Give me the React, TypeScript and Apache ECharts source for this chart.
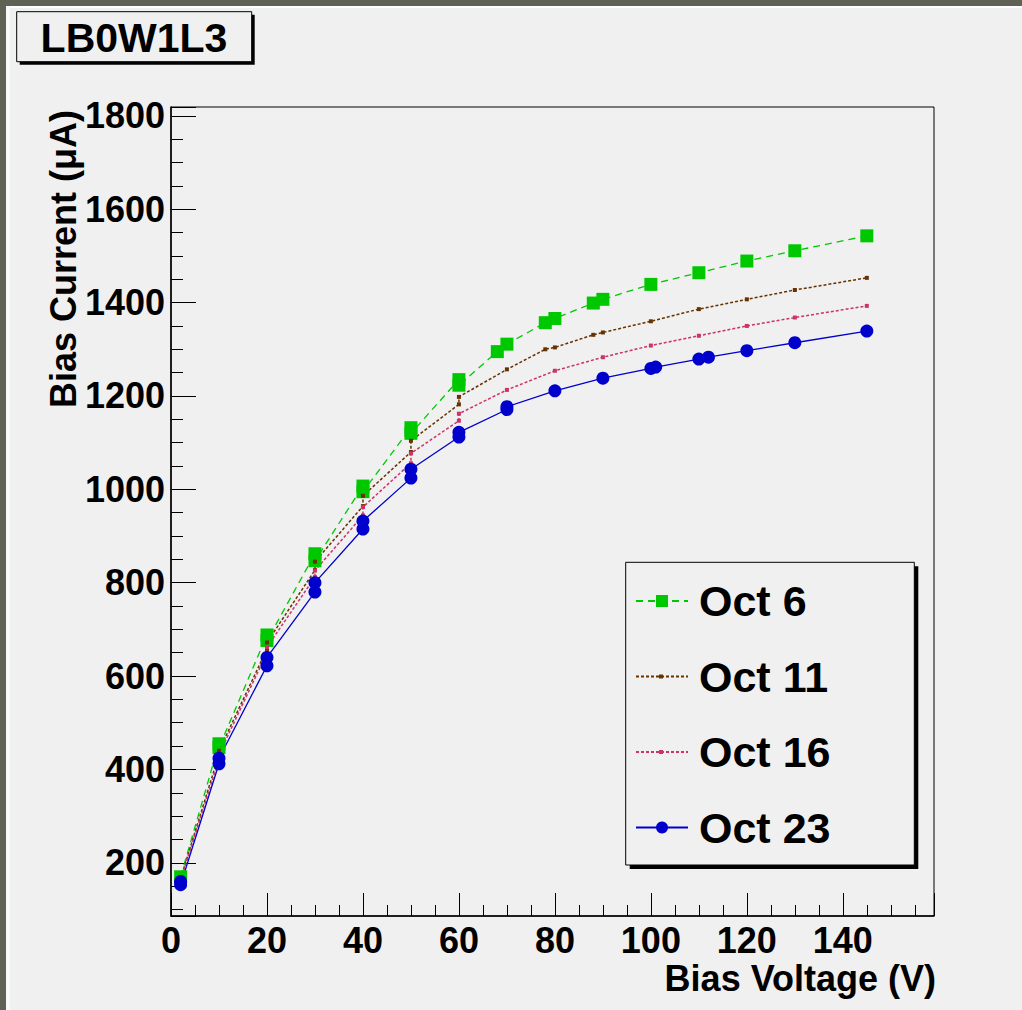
import { useEffect, useRef } from 'react';
import * as echarts from 'echarts';

const FONT = '"Liberation Sans", Arial, Helvetica, sans-serif';

const chartTitle = 'LB0W1L3';
const xTitle = 'Bias Voltage (V)';
const yTitle = 'Bias Current (μA)';

const seriesNames = ['Oct 6', 'Oct 11', 'Oct 16', 'Oct 23'];

const oct6V = [2, 10, 10, 20, 20, 30, 30, 40, 40, 50, 50, 60, 60, 68, 70, 78, 80, 88, 90, 100, 110, 120, 130, 145];
const oct6I = [170, 455, 447, 688, 676, 862, 847, 1007, 995, 1132, 1120, 1235, 1223, 1295, 1311, 1357, 1366, 1399, 1407, 1439, 1464, 1489, 1511, 1543];

const oct11V = [2, 10, 10, 20, 20, 30, 30, 40, 40, 50, 50, 60, 60, 70, 78, 80, 88, 90, 100, 110, 120, 130, 145];
const oct11I = [166, 432, 440, 658, 672, 827, 845, 964, 986, 1080, 1104, 1182, 1198, 1257, 1300, 1304, 1331, 1336, 1360, 1386, 1407, 1427, 1453];

const oct16V = [2, 10, 10, 20, 20, 30, 30, 40, 40, 50, 50, 60, 60, 70, 80, 90, 100, 110, 120, 130, 145];
const oct16I = [163, 422, 432, 650, 662, 812, 826, 944, 962, 1056, 1077, 1147, 1162, 1213, 1254, 1283, 1308, 1329, 1350, 1368, 1393];

const oct23V = [2, 2, 10, 10, 20, 20, 30, 30, 40, 40, 50, 50, 60, 60, 70, 70, 80, 90, 100, 101, 110, 112, 120, 130, 145];
const oct23I = [160, 153, 412, 424, 622, 640, 780, 800, 915, 932, 1024, 1043, 1112, 1122, 1171, 1177, 1211, 1238, 1259, 1262, 1279, 1283, 1297, 1314, 1339];

const xMin = 0;
const xMax = 159;
const yMin = 86;
const yMax = 1819;

const COLORS = ['#00c800', '#663300', '#cc3366', '#0000cc'];

const zip = (xs: number[], ys: number[]) => xs.map((x, i) => [x, ys[i]]);

export default function App() {
  const ref = useRef<HTMLDivElement>(null);

  useEffect(() => {
    const chart = echarts.init(ref.current!, null, { renderer: 'svg' });

    const grid = { left: 171, top: 107, right: 88, bottom: 94 };

    const majorLabel = (step: number) => (v: number) =>
      Math.abs(v % step) < 1e-6 ? String(v) : '';

    const option: any = {
      animation: false,
      backgroundColor: '#f0f0f0',
      grid: { ...grid, show: true, borderColor: '#000', borderWidth: 1, backgroundColor: 'transparent' },
      legend: {
        orient: 'vertical',
        left: 630,
        top: 574,
        itemWidth: 52,
        itemHeight: 15,
        itemGap: 31.5,
        z: 10,
        selectedMode: false,
        textStyle: {
          fontFamily: FONT,
          fontSize: 43,
          fontWeight: 'bold',
          color: '#000',
          lineHeight: 44,
          padding: [0, 0, 0, 6],
        },
        data: [
          { name: seriesNames[0] },
          { name: seriesNames[1], itemStyle: { color: 'rgba(0,0,0,0)' } },
          { name: seriesNames[2], itemStyle: { color: 'rgba(0,0,0,0)' } },
          { name: seriesNames[3] },
        ],
      },
      xAxis: [
        {
          type: 'value',
          min: xMin,
          max: xMax,
          interval: 20,
          position: 'bottom',
          axisLine: { show: true, lineStyle: { color: '#000', width: 1.5 } },
          axisTick: { show: true, inside: true, length: 23, lineStyle: { color: '#000', width: 1 } },
          axisLabel: {
            show: true,
            margin: 6,
            fontFamily: FONT,
            fontSize: 36,
            fontWeight: 'bold',
            color: '#000',
            formatter: majorLabel(20),
          },
          splitLine: { show: false },
        },
        {
          type: 'value',
          min: xMin,
          max: xMax,
          interval: 5,
          position: 'bottom',
          axisLine: { show: false },
          axisTick: { show: true, inside: true, length: 11, lineStyle: { color: '#000', width: 1 } },
          axisLabel: { show: false },
          splitLine: { show: false },
        },
      ],
      yAxis: [
        {
          type: 'value',
          min: yMin,
          max: yMax,
          splitNumber: 9,
          position: 'left',
          axisLine: { show: true, lineStyle: { color: '#000', width: 1.5 } },
          axisTick: { show: true, inside: true, length: 25, lineStyle: { color: '#000', width: 1 } },
          axisLabel: {
            show: true,
            margin: 6,
            fontFamily: FONT,
            fontSize: 36,
            fontWeight: 'bold',
            color: '#000',
            formatter: majorLabel(200),
          },
          splitLine: { show: false },
        },
        {
          type: 'value',
          min: yMin,
          max: yMax,
          splitNumber: 35,
          position: 'left',
          axisLine: { show: false },
          axisTick: { show: true, inside: true, length: 12, lineStyle: { color: '#000', width: 1 } },
          axisLabel: { show: false },
          splitLine: { show: false },
        },
      ],
      series: [
        {
          name: seriesNames[0],
          type: 'line',
          data: zip(oct6V, oct6I),
          symbol: 'rect',
          symbolSize: 13,
          color: COLORS[0],
          itemStyle: { color: COLORS[0] },
          lineStyle: { color: COLORS[0], width: 1.3, type: [7, 5] },
          emphasis: { disabled: true },
        },
        {
          name: seriesNames[1],
          type: 'line',
          data: zip(oct11V, oct11I),
          symbol: 'rect',
          symbolSize: 4,
          color: COLORS[1],
          itemStyle: { color: COLORS[1] },
          lineStyle: { color: COLORS[1], width: 1.5, type: [3, 2] },
          emphasis: { disabled: true },
        },
        {
          name: seriesNames[2],
          type: 'line',
          data: zip(oct16V, oct16I),
          symbol: 'rect',
          symbolSize: 4,
          color: COLORS[2],
          itemStyle: { color: COLORS[2] },
          lineStyle: { color: COLORS[2], width: 1.5, type: [3, 2] },
          emphasis: { disabled: true },
        },
        {
          name: seriesNames[3],
          type: 'line',
          data: zip(oct23V, oct23I),
          symbol: 'circle',
          symbolSize: 13,
          color: COLORS[3],
          itemStyle: { color: COLORS[3] },
          lineStyle: { color: COLORS[3], width: 1.3, type: 'solid' },
          emphasis: { disabled: true },
        },
      ],
      graphic: [
        // page border
        { type: 'rect', z: 1, shape: { x: 0, y: 0, width: 1022, height: 6 }, style: { fill: '#5f6356' } },
        { type: 'rect', z: 1, shape: { x: 0, y: 0, width: 6, height: 1010 }, style: { fill: '#5f6356' } },
        { type: 'rect', z: 1, shape: { x: 6, y: 6, width: 1016, height: 2 }, style: { fill: '#ffffff' } },
        { type: 'rect', z: 1, shape: { x: 6, y: 6, width: 4, height: 1004 }, style: { fill: '#fafafa' } },
        // title box
        { type: 'rect', z: 5, shape: { x: 19.7, y: 14.7, width: 235, height: 50 }, style: { fill: '#000' } },
        { type: 'rect', z: 6, shape: { x: 16.7, y: 11.7, width: 235, height: 50 }, style: { fill: '#f0f0f0', stroke: '#000', lineWidth: 1 } },
        {
          type: 'text', z: 7, x: 134, y: 37.5,
          style: { text: chartTitle, fontFamily: FONT, fontSize: 41, fontWeight: 'bold', fill: '#000', align: 'center', verticalAlign: 'middle' },
        },
        // legend box
        { type: 'rect', z: 5, shape: { x: 629.7, y: 566.3, width: 288.6, height: 302.7 }, style: { fill: '#000' } },
        { type: 'rect', z: 6, shape: { x: 625.7, y: 562.3, width: 288.6, height: 302.7 }, style: { fill: '#f0f0f0', stroke: '#000', lineWidth: 1 } },
        // tiny legend markers for the dotted series
        { type: 'rect', z: 20, shape: { x: 659, y: 674.5, width: 4, height: 4 }, style: { fill: COLORS[1] } },
        { type: 'rect', z: 20, shape: { x: 659, y: 750, width: 4, height: 4 }, style: { fill: COLORS[2] } },
        // axis titles
        {
          type: 'text', z: 7, x: 63, y: 110, rotation: Math.PI / 2,
          style: { text: yTitle, fontFamily: FONT, fontSize: 36, fontWeight: 'bold', fill: '#000', align: 'right', verticalAlign: 'middle' },
        },
        {
          type: 'text', z: 7, x: 936, y: 978,
          style: { text: xTitle, fontFamily: FONT, fontSize: 36, fontWeight: 'bold', fill: '#000', align: 'right', verticalAlign: 'middle' },
        },
      ],
    };

    chart.setOption(option);
    return () => chart.dispose();
  }, []);

  return (
    <div
      ref={ref}
      style={{ position: 'absolute', left: 0, top: 0, width: 1022, height: 1010 }}
    />
  );
}
